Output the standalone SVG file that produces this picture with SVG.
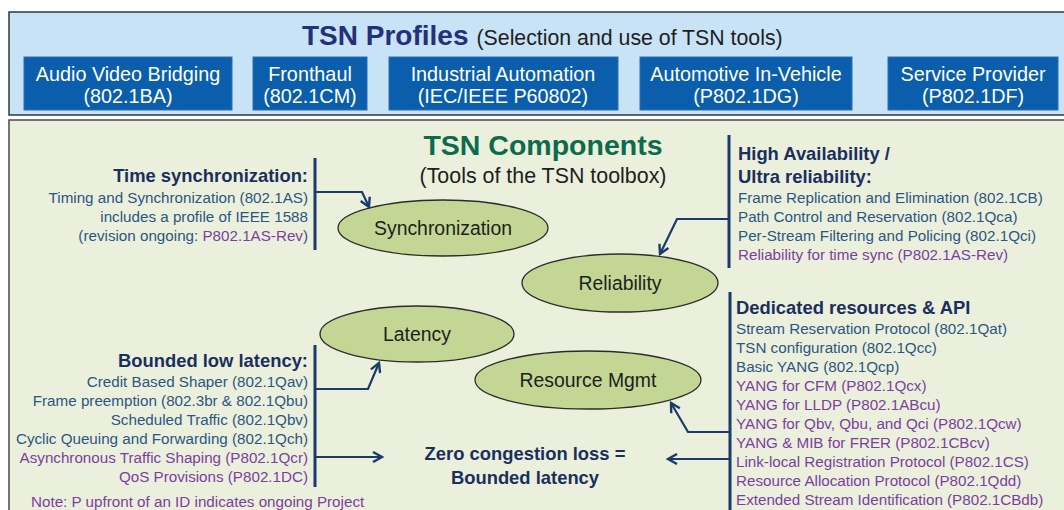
<svg xmlns="http://www.w3.org/2000/svg" width="1064" height="510" viewBox="0 0 1064 510">
  <defs>
    <marker id="arrow" viewBox="0 0 12 12" refX="10" refY="6" markerWidth="12" markerHeight="12" markerUnits="userSpaceOnUse" orient="auto">
      <path d="M1,1 L10,6 L1,11" fill="none" stroke="#1b3a6b" stroke-width="2.4" stroke-linejoin="miter"/>
    </marker>
    <style>
      text { font-family: "Liberation Sans", Arial, sans-serif; }
      .profile rect { fill: #0b5eab; stroke: #2a6fb5; stroke-width: 1; }
      .profile text { fill: #ffffff; font-size: 19.8px; text-anchor: middle; }
      .tool ellipse { fill: #c3d694; stroke: #2b2b2b; stroke-width: 1.3; }
      .tool text { fill: #1e1e1e; font-size: 19.4px; text-anchor: middle; }
      .head { fill: #1a2f5e; font-size: 18.4px; font-weight: bold; }
      .item { fill: #2c5682; font-size: 15.2px; }
      .proj { fill: #7a3fa0; }
      .bar { stroke: #1b3a6b; stroke-width: 3; fill: none; }
      .conn { stroke: #1b3a6b; stroke-width: 2.2; fill: none; marker-end: url(#arrow); }
    </style>
  </defs>

  <rect x="0" y="0" width="1064" height="510" fill="#ffffff"/>

  <!-- Profiles band -->
  <g id="profiles">
    <rect x="9" y="12" width="1062" height="103" fill="#c8e2f6" stroke="#2e3740" stroke-width="1.5"/>
    <text x="302" y="45" font-size="28" font-weight="bold" fill="#24307a">TSN Profiles<tspan font-size="21.3" font-weight="normal" fill="#1e1e1e" dx="8">(Selection and use of TSN tools)</tspan></text>
  </g>
  <g id="profile-avb" class="profile">
    <rect x="24" y="57" width="208" height="53"/>
    <text x="128" y="81">Audio Video Bridging</text>
    <text x="128" y="103">(802.1BA)</text>
  </g>
  <g id="profile-fronthaul" class="profile">
    <rect x="253" y="57" width="114" height="53"/>
    <text x="310" y="81">Fronthaul</text>
    <text x="310" y="103">(802.1CM)</text>
  </g>
  <g id="profile-industrial" class="profile">
    <rect x="389" y="57" width="229" height="53"/>
    <text x="503" y="81">Industrial Automation</text>
    <text x="503" y="103">(IEC/IEEE P60802)</text>
  </g>
  <g id="profile-automotive" class="profile">
    <rect x="640" y="57" width="212" height="53"/>
    <text x="746" y="81">Automotive In-Vehicle</text>
    <text x="746" y="103">(P802.1DG)</text>
  </g>
  <g id="profile-provider" class="profile">
    <rect x="888" y="57" width="170" height="53"/>
    <text x="973" y="81">Service Provider</text>
    <text x="973" y="103">(P802.1DF)</text>
  </g>

  <!-- Components panel -->
  <g id="components">
    <rect x="9" y="120" width="1062" height="400" fill="#ebf0dc" stroke="#4a4a4a" stroke-width="1.5"/>
    <text x="543" y="155" font-size="28.5" font-weight="bold" fill="#0d6b4c" text-anchor="middle">TSN Components</text>
    <text x="543" y="183" font-size="21.4" fill="#1e1e1e" text-anchor="middle">(Tools of the TSN toolbox)</text>
  </g>

  <!-- Tool ellipses -->
  <g id="tool-sync" class="tool">
    <ellipse cx="443" cy="228" rx="105" ry="28"/>
    <text x="443" y="235">Synchronization</text>
  </g>
  <g id="tool-reliability" class="tool">
    <ellipse cx="620" cy="283" rx="98" ry="29"/>
    <text x="620" y="290">Reliability</text>
  </g>
  <g id="tool-latency" class="tool">
    <ellipse cx="417" cy="334" rx="97" ry="28"/>
    <text x="417" y="341">Latency</text>
  </g>
  <g id="tool-resource" class="tool">
    <ellipse cx="588" cy="380" rx="113" ry="29"/>
    <text x="588" y="387">Resource Mgmt</text>
  </g>

  <!-- Time synchronization list -->
  <g id="list-sync" text-anchor="end">
    <line class="bar" x1="315" y1="158" x2="315" y2="250"/>
    <text class="head" x="308" y="182">Time synchronization:</text>
    <text class="item" x="308" y="203">Timing and Synchronization (802.1AS)</text>
    <text class="item" x="308" y="222">includes a profile of IEEE 1588</text>
    <text class="item" x="308" y="241">(revision ongoing: <tspan class="proj">P802.1AS-Rev</tspan>)</text>
  </g>

  <!-- Reliability list -->
  <g id="list-reliability">
    <line class="bar" x1="729" y1="135" x2="729" y2="268"/>
    <text class="head" x="738" y="160">High Availability /</text>
    <text class="head" x="738" y="183">Ultra reliability:</text>
    <text class="item" x="738" y="203">Frame Replication and Elimination (802.1CB)</text>
    <text class="item" x="738" y="222">Path Control and Reservation (802.1Qca)</text>
    <text class="item" x="738" y="241">Per-Stream Filtering and Policing (802.1Qci)</text>
    <text class="item proj" x="738" y="260">Reliability for time sync (P802.1AS-Rev)</text>
  </g>

  <!-- Latency list -->
  <g id="list-latency" text-anchor="end">
    <line class="bar" x1="315" y1="345" x2="315" y2="487"/>
    <text class="head" x="308" y="367">Bounded low latency:</text>
    <text class="item" x="308" y="387">Credit Based Shaper (802.1Qav)</text>
    <text class="item" x="308" y="406">Frame preemption (802.3br &amp; 802.1Qbu)</text>
    <text class="item" x="308" y="425">Scheduled Traffic (802.1Qbv)</text>
    <text class="item" x="308" y="444">Cyclic Queuing and Forwarding (802.1Qch)</text>
    <text class="item proj" x="308" y="463">Asynchronous Traffic Shaping (P802.1Qcr)</text>
    <text class="item proj" x="308" y="482">QoS Provisions (P802.1DC)</text>
  </g>
  <text id="note" class="item proj" x="31" y="507">Note: P upfront of an ID indicates ongoing Project</text>

  <!-- Resources list -->
  <g id="list-resources">
    <line class="bar" x1="730" y1="292" x2="730" y2="512"/>
    <text class="head" x="736" y="314">Dedicated resources &amp; API</text>
    <text class="item" x="736" y="334">Stream Reservation Protocol (802.1Qat)</text>
    <text class="item" x="736" y="353">TSN configuration (802.1Qcc)</text>
    <text class="item" x="736" y="372">Basic YANG (802.1Qcp)</text>
    <text class="item proj" x="736" y="391">YANG for CFM (P802.1Qcx)</text>
    <text class="item proj" x="736" y="410">YANG for LLDP (P802.1ABcu)</text>
    <text class="item proj" x="736" y="429">YANG for Qbv, Qbu, and Qci (P802.1Qcw)</text>
    <text class="item proj" x="736" y="448">YANG &amp; MIB for FRER (P802.1CBcv)</text>
    <text class="item proj" x="736" y="467">Link-local Registration Protocol (P802.1CS)</text>
    <text class="item proj" x="736" y="486">Resource Allocation Protocol (P802.1Qdd)</text>
    <text class="item proj" x="736" y="505">Extended Stream Identification (P802.1CBdb)</text>
  </g>

  <!-- Outcome -->
  <g id="outcome" text-anchor="middle">
    <text class="head" x="525" y="460">Zero congestion loss =</text>
    <text class="head" x="525" y="484">Bounded latency</text>
  </g>

  <!-- Connectors -->
  <g id="connectors">
    <path class="conn" d="M316,192 H362 L369,207"/>
    <path class="conn" d="M728,219 H677 L660,254"/>
    <path class="conn" d="M316,389 H368 L379,363"/>
    <path class="conn" d="M316,457 H382"/>
    <path class="conn" d="M729,432 H688 L671,403"/>
    <path class="conn" d="M729,459 H668"/>
  </g>
</svg>
